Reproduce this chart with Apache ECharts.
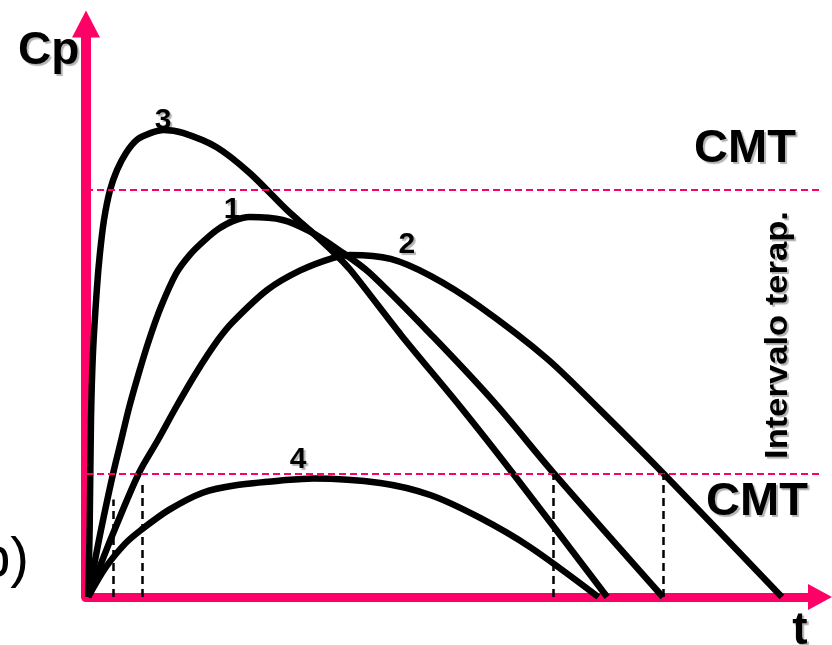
<!DOCTYPE html>
<html>
<head>
<meta charset="utf-8">
<script src="https://cdn.jsdelivr.net/npm/echarts@6/dist/echarts.min.js"></script>
<style>
  html, body { margin: 0; padding: 0; background: #fff; }
  #chart { width: 832px; height: 645px; }
</style>
</head>
<body>
<div id="chart"></div>
<script>
// curves as [t, Cp] (t 0-100, Cp 0-100)
const curve1 = [[0.3, 0], [1.9, 10.8], [3.7, 21.6], [4.8, 27.4], [5.9, 33.2], [7.2, 39.1], [8.6, 44.9],
  [10.2, 50.6], [12.3, 56.5], [14.2, 59.8], [16.1, 62.2], [18.0, 64.2], [20.0, 65.6], [22.3, 66.3],
  [26.8, 65.8], [30.5, 63.8], [34.5, 60.5], [38.6, 56.6], [47.3, 45.4], [55.6, 34.0], [63.6, 21.8], [78.6, 0]]
const curve2 = [[0.3, 0], [3.5, 10.5], [7.2, 21.6], [9.8, 27.4], [12.3, 33.2], [15.0, 39.1], [18.0, 44.9],
  [20.0, 48.0], [24.7, 53.6], [29.2, 57.0], [33.7, 59.2], [36.0, 59.7], [41.5, 59.0], [47.0, 56.0],
  [53.5, 50.8], [62.8, 41.6], [70.0, 32.7], [78.7, 21.5], [94.8, 0]]
const curve3 = [[0.3, 0], [0.5, 12.0], [0.68, 30.9], [0.95, 42.6], [1.5, 54.1], [1.9, 60.0],
  [2.45, 65.8], [3.27, 71.0], [4.22, 74.5], [5.45, 77.5], [6.95, 79.8], [8.86, 81.0], [10.6, 81.5],
  [13.2, 81.0], [17.8, 78.5], [22.3, 74.0], [27.4, 67.5], [30.5, 64.0], [33.7, 60.2], [36.0, 57.1],
  [43.0, 45.6], [51.0, 33.2], [58.2, 21.5], [71.0, 0]]
const curve4 = [[0.3, 0], [2.7, 5.2], [5.4, 9.4], [7.5, 11.7], [11.3, 15.2], [15.9, 18.2], [20.4, 19.5],
  [27.2, 20.4], [31.0, 20.7], [40.1, 19.9], [46.9, 17.8], [53.7, 13.8], [60.5, 8.7], [69.8, 0]]

// curve numbers [t, Cp, text]
const curveLabels = [[10.5, 83.1, '3'], [19.9, 67.5, '1'], [43.7, 61.4, '2'], [28.9, 23.9, '4']]

// CMT levels and the dashed time marks [t, top Cp]
const cmtLevels = [71, 21.5]
const timeMarks = [[3.7, 17], [7.6, 20], [63.6, 21.5], [78.7, 21.5]]

const pink = '#ff0066'
const shadow = { textShadowColor: 'rgba(0,0,0,0.3)', textShadowOffsetX: 2, textShadowOffsetY: 2, textShadowBlur: 1 }
const font = 'Liberation Sans, Arial, sans-serif'

const curveSeries = (data) => ({
  type: 'line',
  data: data,
  smooth: 0.3,
  symbol: 'none',
  lineStyle: { color: '#000', width: 6.5, join: 'round' },
  z: 3
})

const chart = echarts.init(document.getElementById('chart'))
chart.setOption({
  animation: false,
  grid: { left: 86, right: 12, top: 24, bottom: 48 },
  xAxis: {
    type: 'value', min: 0, max: 100,
    axisLine: { show: true, symbol: ['none', 'triangle'], symbolSize: [26, 24], lineStyle: { color: pink, width: 9 } },
    axisTick: { show: false }, axisLabel: { show: false }, splitLine: { show: false }
  },
  yAxis: {
    type: 'value', min: 0, max: 100,
    axisLine: { show: true, symbol: ['none', 'triangle'], symbolSize: [28, 27], lineStyle: { color: pink, width: 10 } },
    axisTick: { show: false }, axisLabel: { show: false }, splitLine: { show: false }
  },
  series: [
    {
      type: 'line', data: [], z: 2,
      markLine: {
        silent: true, symbol: 'none', label: { show: false },
        lineStyle: { color: pink, width: 2, type: [7, 4] },
        data: cmtLevels.map((v) => ({ yAxis: v }))
      }
    },
    {
      type: 'line', data: [], z: 2,
      markLine: {
        silent: true, symbol: 'none', label: { show: false },
        lineStyle: { color: '#000', width: 2.5, type: [8, 5] },
        data: timeMarks.map((m) => [{ coord: [m[0], 0] }, { coord: [m[0], m[1]] }])
      }
    },
    curveSeries(curve1),
    curveSeries(curve2),
    curveSeries(curve3),
    curveSeries(curve4),
    {
      type: 'scatter',
      data: curveLabels,
      symbolSize: 0,
      itemStyle: { color: '#000', opacity: 1 },
      z: 4,
      label: {
        show: true, position: 'inside', opacity: 1,
        formatter: (p) => p.value[2],
        color: '#000', fontSize: 30, fontWeight: 'bold', fontFamily: font,
        ...shadow
      }
    }
  ],
  graphic: [
    { type: 'text', x: 18, y: 51, style: { text: 'Cp', font: 'bold 46px ' + font, fill: '#000', textAlign: 'left', textVerticalAlign: 'middle', ...shadow } },
    { type: 'text', x: 745, y: 149, style: { text: 'CMT', font: 'bold 47px ' + font, fill: '#000', textAlign: 'center', textVerticalAlign: 'middle', ...shadow } },
    { type: 'text', x: 757, y: 502, style: { text: 'CMT', font: 'bold 47px ' + font, fill: '#000', textAlign: 'center', textVerticalAlign: 'middle', ...shadow } },
    { type: 'text', x: 800, y: 631, style: { text: 't', font: 'bold 46px ' + font, fill: '#000', textAlign: 'center', textVerticalAlign: 'middle', ...shadow } },
    { type: 'text', x: 778, y: 335, rotation: Math.PI / 2, scaleX: 1.08, style: { text: 'Intervalo terap.', font: 'bold 32px ' + font, fill: '#000', textAlign: 'center', textVerticalAlign: 'middle', ...shadow } },
    { type: 'text', x: 29, y: 561, style: { text: 'b)', font: '56px ' + font, fill: '#000', textAlign: 'right', textVerticalAlign: 'middle' } }
  ]
})
</script>
</body>
</html>
